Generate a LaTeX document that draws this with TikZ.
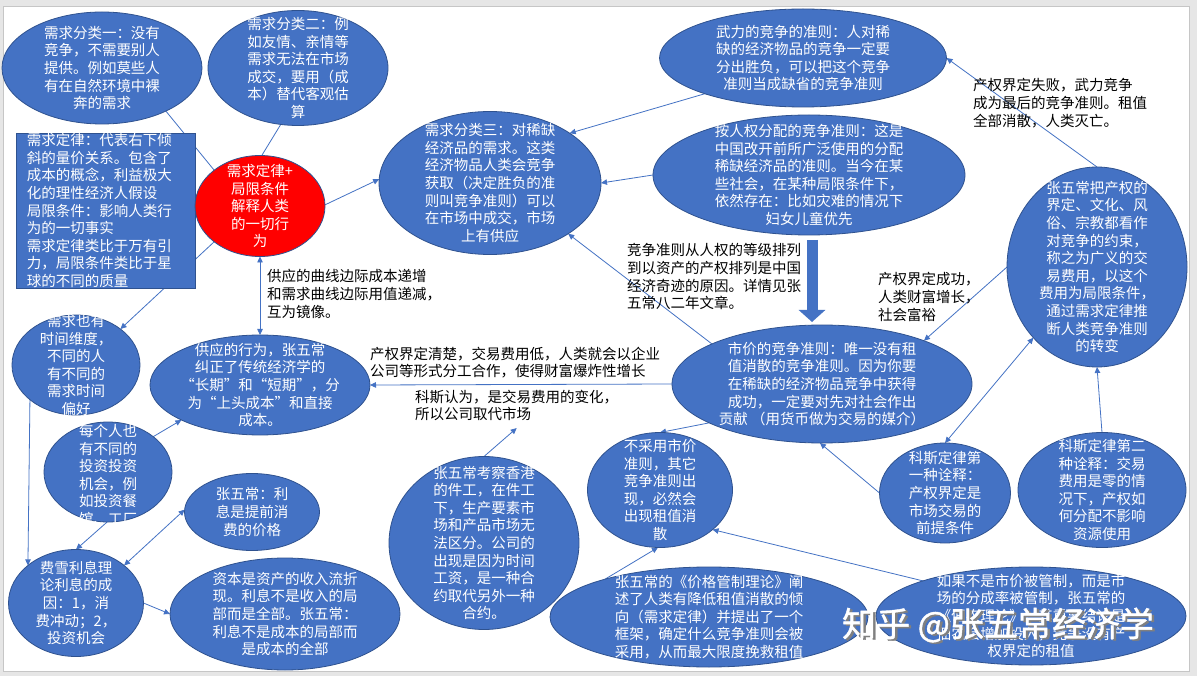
\documentclass[tikz,border=0pt]{standalone}
\usepackage{fontspec}
\setmainfont{Noto Sans CJK SC}
\newfontfamily\wmfont[FakeBold=1.2]{Noto Sans CJK SC}
\usetikzlibrary{shapes.geometric,arrows.meta}
\definecolor{officeblue}{HTML}{4472C4}
\definecolor{officeedge}{HTML}{2F528F}
\definecolor{framegray}{HTML}{E6E6E6}
\definecolor{wmshade}{HTML}{808080}
\newcommand{\cjktext}{\fontsize{14.5}{17.6}\selectfont}
\newcommand{\wmtext}{\wmfont\fontsize{34}{38}\selectfont}
\pgfdeclarelayer{frame}
\pgfdeclarelayer{links}
\pgfsetlayers{frame,links,main}

\begin{document}
\begin{tikzpicture}[x=1pt, y=-1pt,
  >={Triangle[width=5.5pt,length=6pt]},
  bubble/.style={ellipse, fill=officeblue, draw=officeedge, line width=0.8pt, inner sep=0pt, outer sep=0pt},
  bubtext/.style={text=white, align=center, font=\cjktext, inner sep=0pt},
  lawbox/.style={rectangle, fill=officeblue, draw=officeedge, line width=0.8pt, inner sep=0pt, outer sep=0pt},
  lawtext/.style={text=white, align=left, font=\cjktext, inner sep=0pt},
  note/.style={anchor=north west, align=left, inner sep=0pt, font=\cjktext},
  link/.style={draw=officeblue, line width=0.8pt},
  bigarrow/.style={draw=officeblue, line width=11pt, -{Triangle[width=26pt,length=12pt]}}]
  \useasboundingbox (0,0) rectangle (1197,676);
  % slide frame
  \begin{pgfonlayer}{frame}
    \fill[framegray] (0,0) rectangle (1197,676);
    \filldraw[fill=white, draw=gray!45, line width=0.6pt] (3,6) rectangle (1189,671);
  \end{pgfonlayer}

  % demand side
  \node[bubble, minimum width=200pt, minimum height=112pt,
    label={[bubtext]center:需求分类一：没有\\竞争，不需要别人\\提供。例如莫些人\\有在自然环境中裸\\奔的需求}] (dq1) at (102,68) {};
  \node[bubble, minimum width=180pt, minimum height=115pt,
    label={[bubtext]center:需求分类二：例\\如友情、亲情等\\需求无法在市场\\成交，要用（成\\本）替代客观估\\算}] (dq2) at (298,68) {};
  \node[lawbox, minimum width=179pt, minimum height=155pt,
    label={[lawtext, xshift=-6pt]center:需求定律：代表右下倾\\斜的量价关系。包含了\\成本的概念，利益极大\\化的理性经济人假设\\局限条件：影响人类行\\为的一切事实\\需求定律类比于万有引\\力，局限条件类比于星\\球的不同的质量}] (law) at (105.5,210.5) {};
  \node[bubble, fill=red, minimum width=130pt, minimum height=101pt,
    label={[bubtext]center:需求定律+\\局限条件\\解释人类\\的一切行\\为}] (core) at (260,206) {};
  \node[bubble, minimum width=222pt, minimum height=143pt,
    label={[bubtext]center:需求分类三：对稀缺\\经济品的需求。这类\\经济物品人类会竞争\\获取（决定胜负的准\\则叫竞争准则）可以\\在市场中成交，市场\\上有供应}] (dq3) at (490,183) {};

  % competition rules
  \node[bubble, minimum width=287pt, minimum height=98pt,
    label={[bubtext]center:武力的竞争的准则：人对稀\\缺的经济物品的竞争一定要\\分出胜负，可以把这个竞争\\准则当成缺省的竞争准则}] (force) at (803,58) {};
  \node[bubble, minimum width=312pt, minimum height=120pt,
    label={[bubtext]center:按人权分配的竞争准则：这是\\中国改开前所广泛使用的分配\\稀缺经济品的准则。当今在某\\些社会，在某种局限条件下，\\依然存在：比如灾难的情况下\\妇女儿童优先}] (rights) at (809,175) {};
  \node[bubble, minimum width=180pt, minimum height=200pt,
    label={[bubtext]center:张五常把产权的\\界定、文化、风\\俗、宗教都看作\\对竞争的约束，\\称之为广义的交\\易费用，以这个\\费用为局限条件，\\通过需求定律推\\断人类竞争准则\\的转变}] (broad) at (1097,267) {};
  \node[bubble, minimum width=300pt, minimum height=118pt,
    label={[bubtext]center:市价的竞争准则：唯一没有租\\值消散的竞争准则。因为你要\\在稀缺的经济物品竞争中获得\\成功，一定要对先对社会作出\\贡献 （用货币做为交易的媒介）}] (price) at (822,384) {};

  % supply and interest
  \node[bubble, minimum width=220pt, minimum height=100pt,
    label={[bubtext]center:供应的行为，张五常\\纠正了传统经济学的\\“长期”和“短期”，分\\为“上头成本”和直接\\成本。}] (supply) at (260,385) {};
  \node[bubble, minimum width=128pt, minimum height=100pt,
    label={[bubtext]center:需求也有\\时间维度，\\不同的人\\有不同的\\需求时间\\偏好}] (timepref) at (76,365) {};
  \node[bubble, minimum width=128pt, minimum height=100pt,
    label={[bubtext, yshift=-3pt]center:每个人也\\有不同的\\投资投资\\机会，例\\如投资餐\\馆、工厂}] (invest) at (108,472) {};
  \node[bubble, minimum width=135pt, minimum height=77pt,
    label={[bubtext]center:张五常：利\\息是提前消\\费的价格}] (cheung) at (252,512) {};
  \node[bubble, minimum width=135pt, minimum height=107pt,
    label={[bubtext]center:费雪利息理\\论利息的成\\因：1，消\\费冲动；2，\\投资机会}] (fisher) at (76,603) {};
  \node[bubble, minimum width=230pt, minimum height=112pt,
    label={[bubtext]center:资本是资产的收入流折\\现。利息不是收入的局\\部而是全部。张五常：\\利息不是成本的局部而\\是成本的全部}] (capital) at (285,614) {};
  \node[bubble, minimum width=190pt, minimum height=173pt,
    label={[bubtext]center:张五常考察香港\\的件工，在件工\\下，生产要素市\\场和产品市场无\\法区分。公司的\\出现是因为时间\\工资，是一种合\\约取代另外一种\\合约。}] (piece) at (484,543) {};

  % rent dissipation and Coase
  \node[bubble, minimum width=145pt, minimum height=115pt,
    label={[bubtext]center:不采用市价\\准则，其它\\竞争准则出\\现，必然会\\出现租值消\\散}] (dissip) at (660,490) {};
  \node[bubble, minimum width=318pt, minimum height=100pt,
    label={[bubtext]center:张五常的《价格管制理论》阐\\述了人类有降低租值消散的倾\\向（需求定律）并提出了一个\\框架，确定什么竞争准则会被\\采用，从而最大限度挽救租值}] (control) at (709,617) {};
  \node[bubble, minimum width=131pt, minimum height=100pt,
    label={[bubtext]center:科斯定律第\\一种诠释：\\产权界定是\\市场交易的\\前提条件}] (coase1) at (945,493) {};
  \node[bubble, minimum width=168pt, minimum height=115pt,
    label={[bubtext]center:科斯定律第二\\种诠释：交易\\费用是零的情\\况下，产权如\\何分配不影响\\资源使用}] (coase2) at (1102,490) {};
  \node[bubble, minimum width=310pt, minimum height=98pt,
    label={[bubtext]center:如果不是市价被管制，而是市\\场的分成率被管制，张五常的\\《佃农理论》，其重要结论是\\佃农会增加投入，竞争没有产\\权界定的租值}] (tenancy) at (1031,616) {};

  % free texts
  \node[note] (failnote) at (973,78.5) {产权界定失败，武力竞争\\成为最后的竞争准则。租值\\全部消散，人类灭亡。};
  \node[note] (supplynote) at (267,269.5) {供应的曲线边际成本递增\\和需求曲线边际用值递减，\\互为镜像。};
  \node[note] (ranknote) at (627,243.5) {竞争准则从人权的等级排列\\到以资产的产权排列是中国\\经济奇迹的原因。详情见张\\五常八二年文章。};
  \node[note] (successnote) at (878,272.5) {产权界定成功，\\人类财富增长，\\社会富裕};
  \node[note] (firmnote) at (370,346.5) {产权界定清楚，交易费用低，人类就会以企业\\公司等形式分工合作，使得财富爆炸性增长};
  \node[note] (coasenote) at (415,389.5) {科斯认为，是交易费用的变化，\\所以公司取代市场};

  \coordinate (bigtop) at (812,240);
  \coordinate (bigtip) at (812,322);

  % connectors
  \begin{pgfonlayer}{links}
    \draw[link] (dq1.-34) -- (core.142);
    \draw[link] (dq2.-107) -- (core.88);
    \draw[link, ->] (core.218) -- (timepref.39);
    \draw[link, ->] (core.1) -- (dq3.178);
    \draw[link, ->] (force.200) -- (dq3.32);
    \draw[link, ->] (rights.west) -- (dq3.east);
    \draw[link, ->] (price.160) -- (dq3.-33);
    \draw[link, ->] (broad.north) -- (force.east);
    \draw[link, ->] (broad.west) -- (price.23);
    \draw[bigarrow] (bigtop) -- (bigtip);
    \draw[link, ->] (price.west) -- (supply.east);
    \draw[link, <->] (supply.north) -- (core.south);
    \draw[link, ->] (timepref.-143) -- (fisher.142);
    \draw[link, ->] (invest.38) -- (supply.204);
    \draw[link, ->] (invest.-91) -- (fisher.north);
    \draw[link, <->] (fisher.38) -- (cheung.178);
    \draw[link, ->] (fisher.east) -- (capital.west);
    \draw[link, ->] (piece.north) -- ([yshift=-7pt]coasenote.south);
    \draw[link, ->] (price.199) -- (dissip.north);
    \draw[link, ->] (control.160) -- (dissip.-92);
    \draw[link, ->] (tenancy.162) -- (dissip.-37);
    \draw[link, ->] (coase1.west) -- (price.-92);
    \draw[link, <->] (broad.228) -- (coase1.north);
    \draw[link, ->] (coase2.north) -- (broad.south);
  \end{pgfonlayer}

  % watermark
  \node[font=\wmtext, text=wmshade, inner sep=0pt] (wmshadow) at (1000.5,626.5) {知乎 @张五常经济学};
  \node[font=\wmtext, text=white, inner sep=0pt] (wm) at (998,625) {知乎 @张五常经济学};
\end{tikzpicture}
\end{document}
